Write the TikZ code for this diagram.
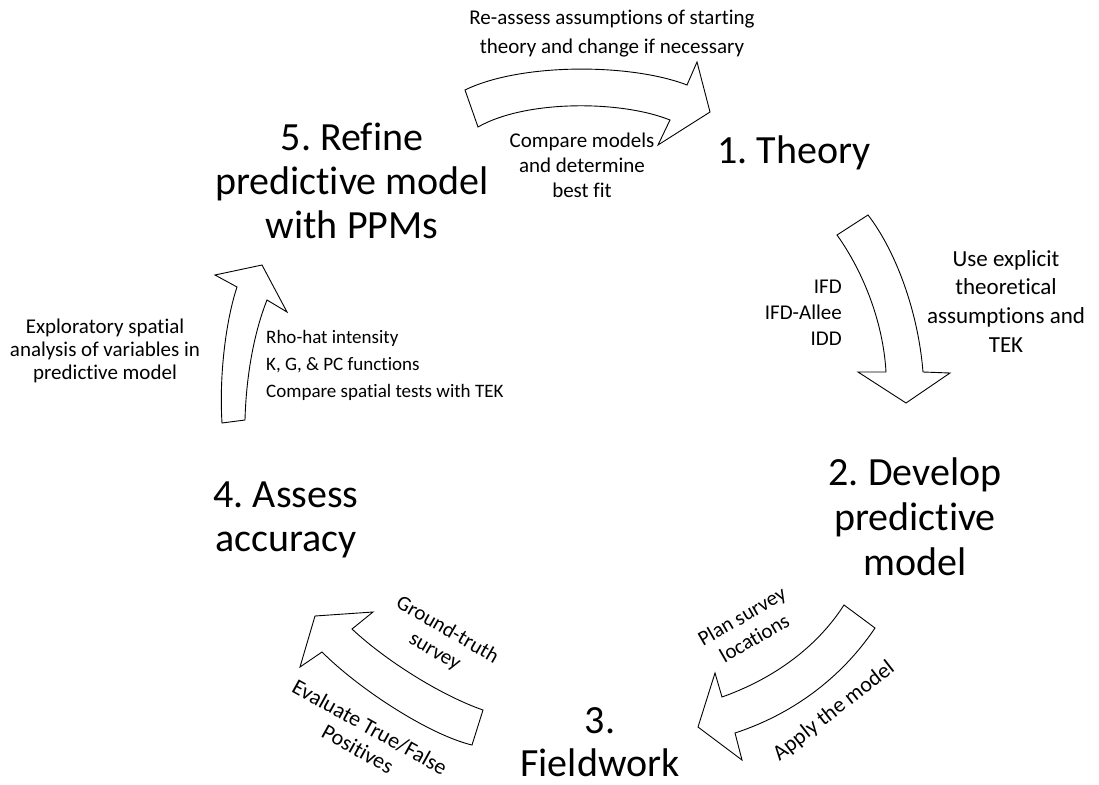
\documentclass[tikz,border=0pt]{standalone}
\usepackage{fontspec}
\setmainfont{Carlito}[Ligatures=NoCommon]
\frenchspacing
\begin{document}
\begin{tikzpicture}[x=1pt,y=-1pt,
  big/.style={font=\fontsize{40}{45}\selectfont, inner sep=0pt, anchor=base},
  small/.style={font=\fontsize{21}{27}\selectfont, inner sep=0pt, anchor=base},
  rot/.style={font=\fontsize{21}{25}\selectfont, inner sep=0pt, anchor=center, align=center},
  blockarrow/.style={draw=black, fill=white, line width=0.9pt, line join=miter}]
\useasboundingbox[fill=white] (0,0) rectangle (1099,784);

% block arrows
\draw[blockarrow] (465,90) .. controls (520,63) and (630,63) .. (687,85) -- (697,62) -- (710,112) -- (658,145) -- (670,120) .. controls (620,100) and (525,100) .. (478,127) -- cycle;
\draw[blockarrow] (868,215) .. controls (895,250) and (918,310) .. (923,372) -- (950,373) -- (906,403) -- (858,372) -- (886,372) .. controls (883,320) and (862,270) .. (837,235) -- cycle;
\draw[blockarrow] (875,628) .. controls (840,680) and (790,715) .. (735,733) -- (742,760) -- (698,727) -- (715,673) -- (722,697) .. controls (770,680) and (815,650) .. (844,605) -- cycle;
\draw[blockarrow] (472,745) .. controls (430,735) and (360,690) .. (322,652) -- (300,667) -- (315,616) -- (373,612) -- (352,629) .. controls (385,660) and (440,695) .. (483,710) -- cycle;
\draw[blockarrow] (245,420) .. controls (246,380) and (253,335) .. (267,300) -- (287,312) -- (262,265) -- (215,275) -- (237,287) .. controls (226,320) and (219,375) .. (222,423) -- cycle;

% stage titles
\node[big, anchor=base west] (t1) at (717,163) {1. Theory};
\node[big] (t5a) at (352,150) {5. Refine};
\node[big] (t5b) at (352,194) {predictive model};
\node[big] (t5c) at (352,238) {with PPMs};
\node[big] (t2a) at (915,485) {2. Develop};
\node[big] (t2b) at (915,530) {predictive};
\node[big] (t2c) at (915,575) {model};
\node[big] (t4a) at (286,507) {4. Assess};
\node[big] (t4b) at (286,551) {accuracy};
\node[big] (t3a) at (600,733) {3.};
\node[big] (t3b) at (600,776) {Fieldwork};

% top arrow labels
\node[small] (ra) at (612,25) {Re-assess assumptions of starting};
\node[small] (rb) at (612,53) {theory and change if necessary};
\node[small] (ca) at (582,147) {Compare models};
\node[small] (cb) at (582,172) {and determine};
\node[small] (cc) at (582,197) {best fit};

% right arrow labels
\node[small, anchor=base east] (ia) at (842,293) {IFD};
\node[small, anchor=base east] (ib) at (842,319) {IFD-Allee};
\node[small, anchor=base east] (ic) at (842,345) {IDD};
\node[small, font=\fontsize{23}{29}\selectfont] (ua) at (1006,266) {Use explicit};
\node[small, font=\fontsize{23}{29}\selectfont] (ub) at (1006,294) {theoretical};
\node[small, font=\fontsize{23}{29}\selectfont] (uc) at (1006,323) {assumptions and};
\node[small, font=\fontsize{23}{29}\selectfont] (ud) at (1006,352) {TEK};

% left arrow labels
\node[small] (ea) at (105,333) {Exploratory spatial};
\node[small] (eb) at (105,356) {analysis of variables in};
\node[small] (ec) at (105,379) {predictive model};
\node[small, anchor=base west, font=\fontsize{19}{27}\selectfont] (ha) at (266,343) {Rho-hat intensity};
\node[small, anchor=base west, font=\fontsize{19}{27}\selectfont] (hb) at (266,370) {K, G, \& PC functions};
\node[small, anchor=base west, font=\fontsize{19}{27}\selectfont] (hc) at (266,397) {Compare spatial tests with TEK};

% rotated labels
\node[rot, rotate=30] (plan) at (748,627) {Plan survey\\locations};
\node[rot, rotate=38, font=\fontsize{22}{25}\selectfont] (apply) at (834,711) {Apply the model};
\node[rot, rotate=-30] (ground) at (441,641) {Ground-truth\\survey};
\node[rot, rotate=-29, font=\fontsize{22}{25}\selectfont] (eval) at (364,738) {Evaluate True/False\\Positives};
\end{tikzpicture}
\end{document}
